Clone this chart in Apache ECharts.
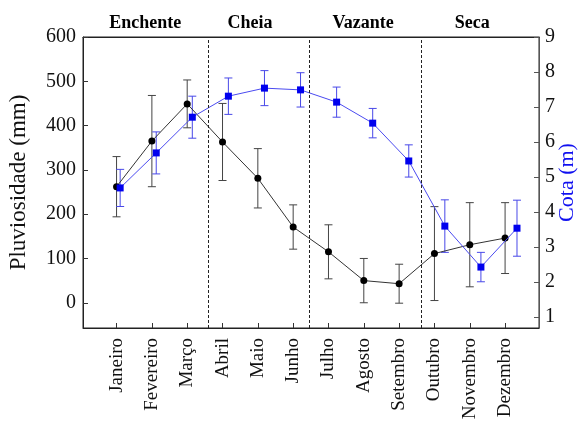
<!DOCTYPE html>
<html>
<head>
<meta charset="utf-8">
<script src="https://cdn.jsdelivr.net/npm/echarts@6/dist/echarts.min.js"></script>
<style>
  html, body { margin: 0; padding: 0; background: #fff; }
  #main { width: 582px; height: 421px; }
</style>
</head>
<body>
<div id="main"></div>
<script>
// dados mensais
var months = ['Janeiro', 'Fevereiro', 'Março', 'Abril', 'Maio', 'Junho',
  'Julho', 'Agosto', 'Setembro', 'Outubro', 'Novembro', 'Dezembro'];
var rain = [262, 365, 449, 363, 281, 171, 115, 50, 43, 111, 131, 146];
var rainErr = [68, 103, 54, 87, 67, 50, 61, 50, 44, 106, 95, 80];
var level = [4.69, 5.69, 6.71, 7.31, 7.54, 7.49, 7.14, 6.54, 5.46, 3.60, 2.43, 3.54];
var levelErr = [0.53, 0.60, 0.60, 0.52, 0.50, 0.49, 0.43, 0.42, 0.46, 0.75, 0.42, 0.80];
var seasons = ['Enchente', 'Cheia', 'Vazante', 'Seca'];
var seasonPos = [0.81, 3.78, 6.98, 10.07];
var seasonBreaks = [2.59, 5.45, 8.63];
var rainTicks = [0, 100, 200, 300, 400, 500, 600];
var levelTicks = [1, 2, 3, 4, 5, 6, 7, 8, 9];

var idx = months.map(function (m, i) { return i; });
var serif = '"Liberation Serif", "DejaVu Serif", serif';

function pts(vals) {
  return vals.map(function (v, i) { return [i, v]; });
}
function bars(vals, errs) {
  return vals.map(function (v, i) { return [i, v, v + errs[i], v - errs[i]]; });
}
function errorBar(color) {
  return function (params, api) {
    var x = api.value(0);
    var hi = api.coord([x, api.value(2)]);
    var lo = api.coord([x, api.value(3)]);
    var w = 4;
    var style = { stroke: color, lineWidth: 1 };
    return {
      type: 'group',
      children: [
        { type: 'line', shape: { x1: hi[0], y1: hi[1], x2: lo[0], y2: lo[1] }, style: style },
        { type: 'line', shape: { x1: hi[0] - w, y1: hi[1], x2: hi[0] + w, y2: hi[1] }, style: style },
        { type: 'line', shape: { x1: lo[0] - w, y1: lo[1], x2: lo[0] + w, y2: lo[1] }, style: style }
      ]
    };
  };
}

var chart = echarts.init(document.getElementById('main'));
var option = {
  animation: false,
  textStyle: { fontFamily: serif },
  grid: {
    left: 83, right: 43, top: 37, bottom: 93, outerBoundsMode: 'none',
    show: true, borderColor: '#222', borderWidth: 1
  },
  xAxis: [
    {
      type: 'value', min: -0.95, max: 11.96,
      axisLine: { onZero: false, lineStyle: { color: '#222' } },
      axisTick: { inside: true, length: 5, customValues: idx, lineStyle: { color: '#333' } },
      axisLabel: {
        customValues: idx, rotate: 90, margin: 10,
        fontSize: 19, color: '#111', fontFamily: serif,
        formatter: function (v) { return months[Math.round(v)]; }
      },
      splitLine: { show: false }
    },
    {
      // eixo oculto da cota (deslocado)
      type: 'value', min: -1.03, max: 11.61, show: false,
      axisLine: { onZero: false }
    },
    {
      type: 'value', position: 'top', min: -0.95, max: 11.96,
      axisLine: { onZero: false, lineStyle: { color: '#222' } },
      axisTick: { show: false },
      axisLabel: {
        customValues: seasonPos, margin: 5,
        fontSize: 18, fontWeight: 'bold', color: '#000', fontFamily: serif,
        formatter: function (v) { return seasons[seasonPos.indexOf(v)]; }
      },
      splitLine: { show: false }
    }
  ],
  yAxis: [
    {
      type: 'value', min: -57, max: 600,
      name: 'Pluviosidade (mm)', nameLocation: 'middle', nameGap: 53, nameRotate: 90,
      nameMoveOverlap: false,
      nameTextStyle: { fontSize: 23, color: '#111', fontFamily: serif },
      axisLine: { show: true, onZero: false, lineStyle: { color: '#222' } },
      axisTick: { show: true, inside: true, length: 5, customValues: rainTicks, lineStyle: { color: '#333' } },
      axisLabel: { customValues: rainTicks, fontSize: 20, color: '#111', margin: 7, fontFamily: serif },
      splitLine: { show: false }
    },
    {
      type: 'value', min: 0.69, max: 9, position: 'right',
      name: 'Cota (m)', nameLocation: 'middle', nameGap: 17, nameRotate: 90,
      nameMoveOverlap: false,
      nameTextStyle: { fontSize: 22, color: '#1010f0', fontFamily: serif },
      axisLine: { show: true, onZero: false, lineStyle: { color: '#555' } },
      axisTick: { show: true, inside: true, length: 5, customValues: levelTicks, lineStyle: { color: '#555' } },
      axisLabel: { customValues: levelTicks, fontSize: 20, color: '#111', margin: 6, fontFamily: serif },
      splitLine: { show: false }
    }
  ],
  series: [
    {
      type: 'custom', xAxisIndex: 0, yAxisIndex: 0,
      renderItem: errorBar('#444'),
      encode: { x: 0, y: [1, 2, 3] },
      data: bars(rain, rainErr), z: 2
    },
    {
      type: 'custom', xAxisIndex: 1, yAxisIndex: 1,
      renderItem: errorBar('#4848e8'),
      encode: { x: 0, y: [1, 2, 3] },
      data: bars(level, levelErr), z: 2
    },
    {
      name: 'Pluviosidade', type: 'line', xAxisIndex: 0, yAxisIndex: 0,
      data: pts(rain), symbol: 'circle', symbolSize: 7,
      itemStyle: { color: '#000' }, lineStyle: { color: '#333', width: 1 }, z: 3,
      markLine: {
        silent: true, symbol: 'none', label: { show: false },
        lineStyle: { color: '#222', type: [3, 2], width: 1 },
        data: seasonBreaks.map(function (b) { return { xAxis: b }; })
      }
    },
    {
      name: 'Cota', type: 'line', xAxisIndex: 1, yAxisIndex: 1,
      data: pts(level), symbol: 'rect', symbolSize: 7,
      itemStyle: { color: '#0000ee' }, lineStyle: { color: '#4a4af0', width: 1 }, z: 4
    }
  ]
};
chart.setOption(option);
</script>
</body>
</html>
